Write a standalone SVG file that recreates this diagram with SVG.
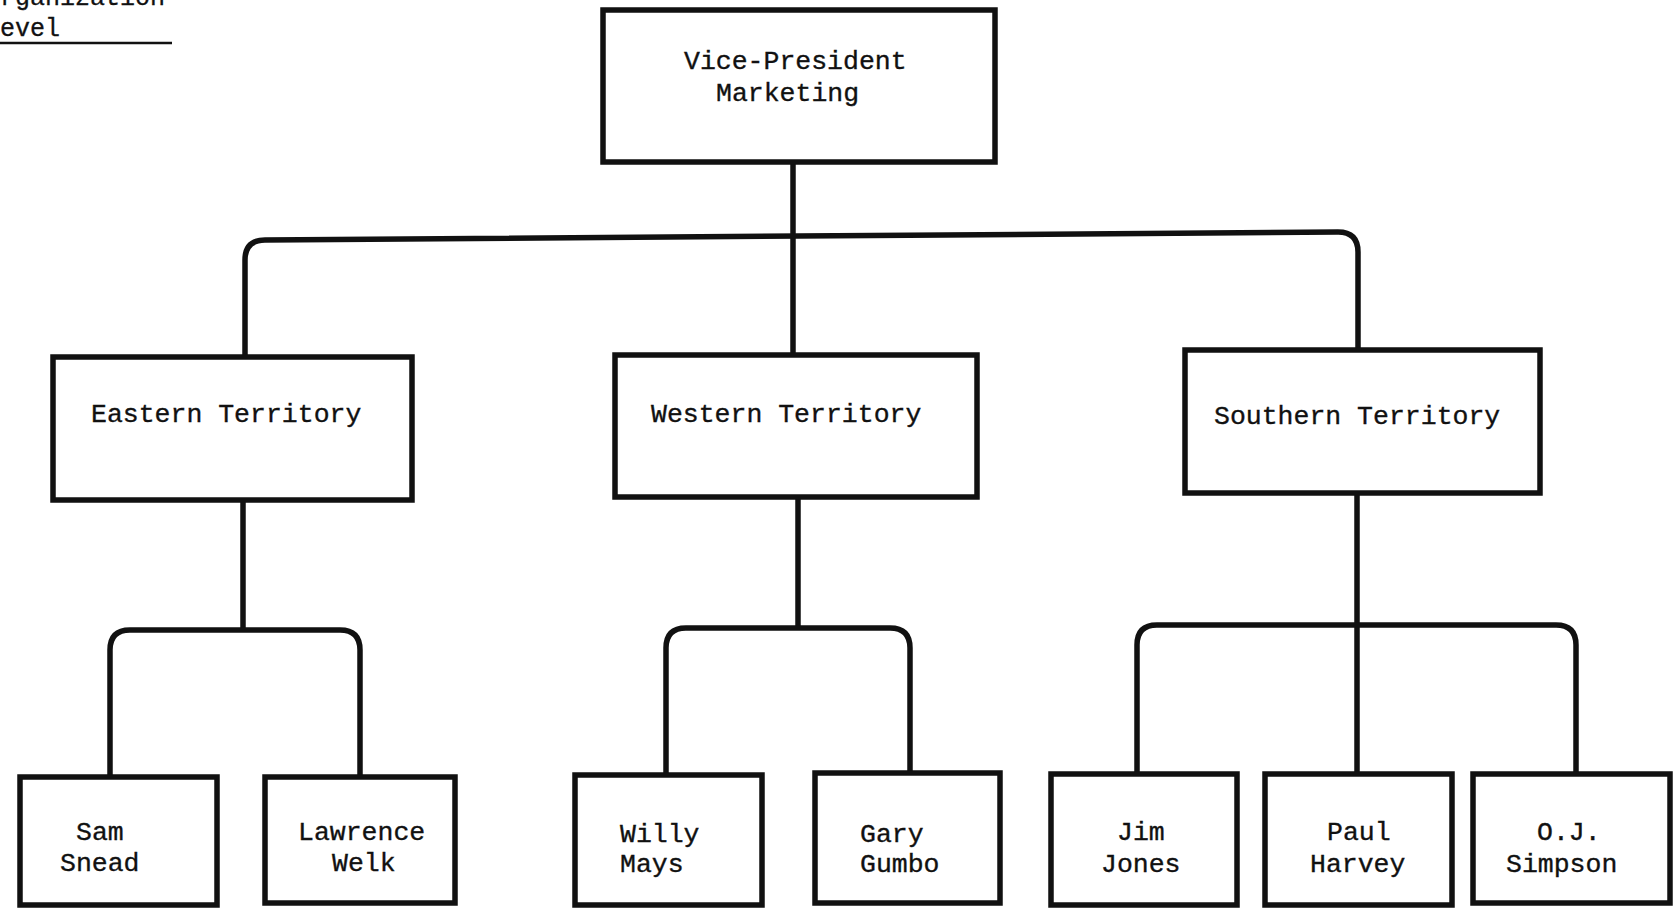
<svg xmlns="http://www.w3.org/2000/svg" width="1674" height="916" viewBox="0 0 1674 916">
  <style>
    .box { fill: #ffffff; stroke: #111111; stroke-width: 5.5; stroke-linejoin: miter; }
    .wire { fill: none; stroke: #111111; stroke-width: 5.5; stroke-linecap: butt; stroke-linejoin: round; }
    .lbl { font-family: "Liberation Mono", "DejaVu Sans Mono", monospace; font-size: 26.5px; fill: #111111; stroke: #111111; stroke-width: 0.35; }
    .hdr { font-family: "Liberation Mono", "DejaVu Sans Mono", monospace; font-size: 25px; fill: #111111; stroke: #111111; stroke-width: 0.3; }
  </style>
  <rect x="0" y="0" width="1674" height="916" fill="#ffffff"/>

  <!-- corner heading, running off the top-left edge -->
  <g id="heading">
    <text class="hdr" x="0" y="5">rganization</text>
    <text class="hdr" x="0" y="36">evel</text>
    <line x1="0" y1="43" x2="172" y2="43" stroke="#111111" stroke-width="2.5"/>
  </g>

  <!-- reporting lines -->
  <g id="connectors">
    <path class="wire" d="M793,162 V355"/>
    <path class="wire" d="M245,357 V260 Q245,240 265,240 L1338,232 Q1358,232 1358,252 V350"/>
    <path class="wire" d="M243,500 V630"/>
    <path class="wire" d="M110,777 V650 Q110,630 130,630 H340 Q360,630 360,650 V777"/>
    <path class="wire" d="M798,497 V628"/>
    <path class="wire" d="M666,775 V648 Q666,628 686,628 H890 Q910,628 910,648 V773"/>
    <path class="wire" d="M1357,493 V774"/>
    <path class="wire" d="M1137,774 V645 Q1137,625 1157,625 H1556 Q1576,625 1576,645 V774"/>
  </g>

  <g id="vp-marketing">
    <rect class="box" x="603" y="10" width="392" height="152"/>
    <text class="lbl" x="684" y="69">Vice-President</text>
    <text class="lbl" x="716" y="101">Marketing</text>
  </g>

  <g id="eastern-territory">
    <rect class="box" x="53" y="357" width="359" height="143"/>
    <text class="lbl" x="91" y="422">Eastern Territory</text>
  </g>
  <g id="western-territory">
    <rect class="box" x="615" y="355" width="362" height="142"/>
    <text class="lbl" x="651" y="422">Western Territory</text>
  </g>
  <g id="southern-territory">
    <rect class="box" x="1185" y="350" width="355" height="143"/>
    <text class="lbl" x="1214" y="424">Southern Territory</text>
  </g>

  <g id="sam-snead">
    <rect class="box" x="20" y="777" width="197" height="128"/>
    <text class="lbl" x="76" y="840">Sam</text>
    <text class="lbl" x="60" y="871">Snead</text>
  </g>
  <g id="lawrence-welk">
    <rect class="box" x="265" y="777" width="190" height="126"/>
    <text class="lbl" x="298" y="840">Lawrence</text>
    <text class="lbl" x="332" y="871">Welk</text>
  </g>
  <g id="willy-mays">
    <rect class="box" x="575" y="775" width="187" height="130"/>
    <text class="lbl" x="620" y="842">Willy</text>
    <text class="lbl" x="620" y="872">Mays</text>
  </g>
  <g id="gary-gumbo">
    <rect class="box" x="815" y="773" width="185" height="130"/>
    <text class="lbl" x="860" y="842">Gary</text>
    <text class="lbl" x="860" y="872">Gumbo</text>
  </g>
  <g id="jim-jones">
    <rect class="box" x="1051" y="774" width="186" height="131"/>
    <text class="lbl" x="1117" y="840">Jim</text>
    <text class="lbl" x="1101" y="872">Jones</text>
  </g>
  <g id="paul-harvey">
    <rect class="box" x="1265" y="774" width="187" height="131"/>
    <text class="lbl" x="1327" y="840">Paul</text>
    <text class="lbl" x="1310" y="872">Harvey</text>
  </g>
  <g id="oj-simpson">
    <rect class="box" x="1473" y="774" width="197" height="129"/>
    <text class="lbl" x="1537" y="840">O.J.</text>
    <text class="lbl" x="1506" y="872">Simpson</text>
  </g>
</svg>
